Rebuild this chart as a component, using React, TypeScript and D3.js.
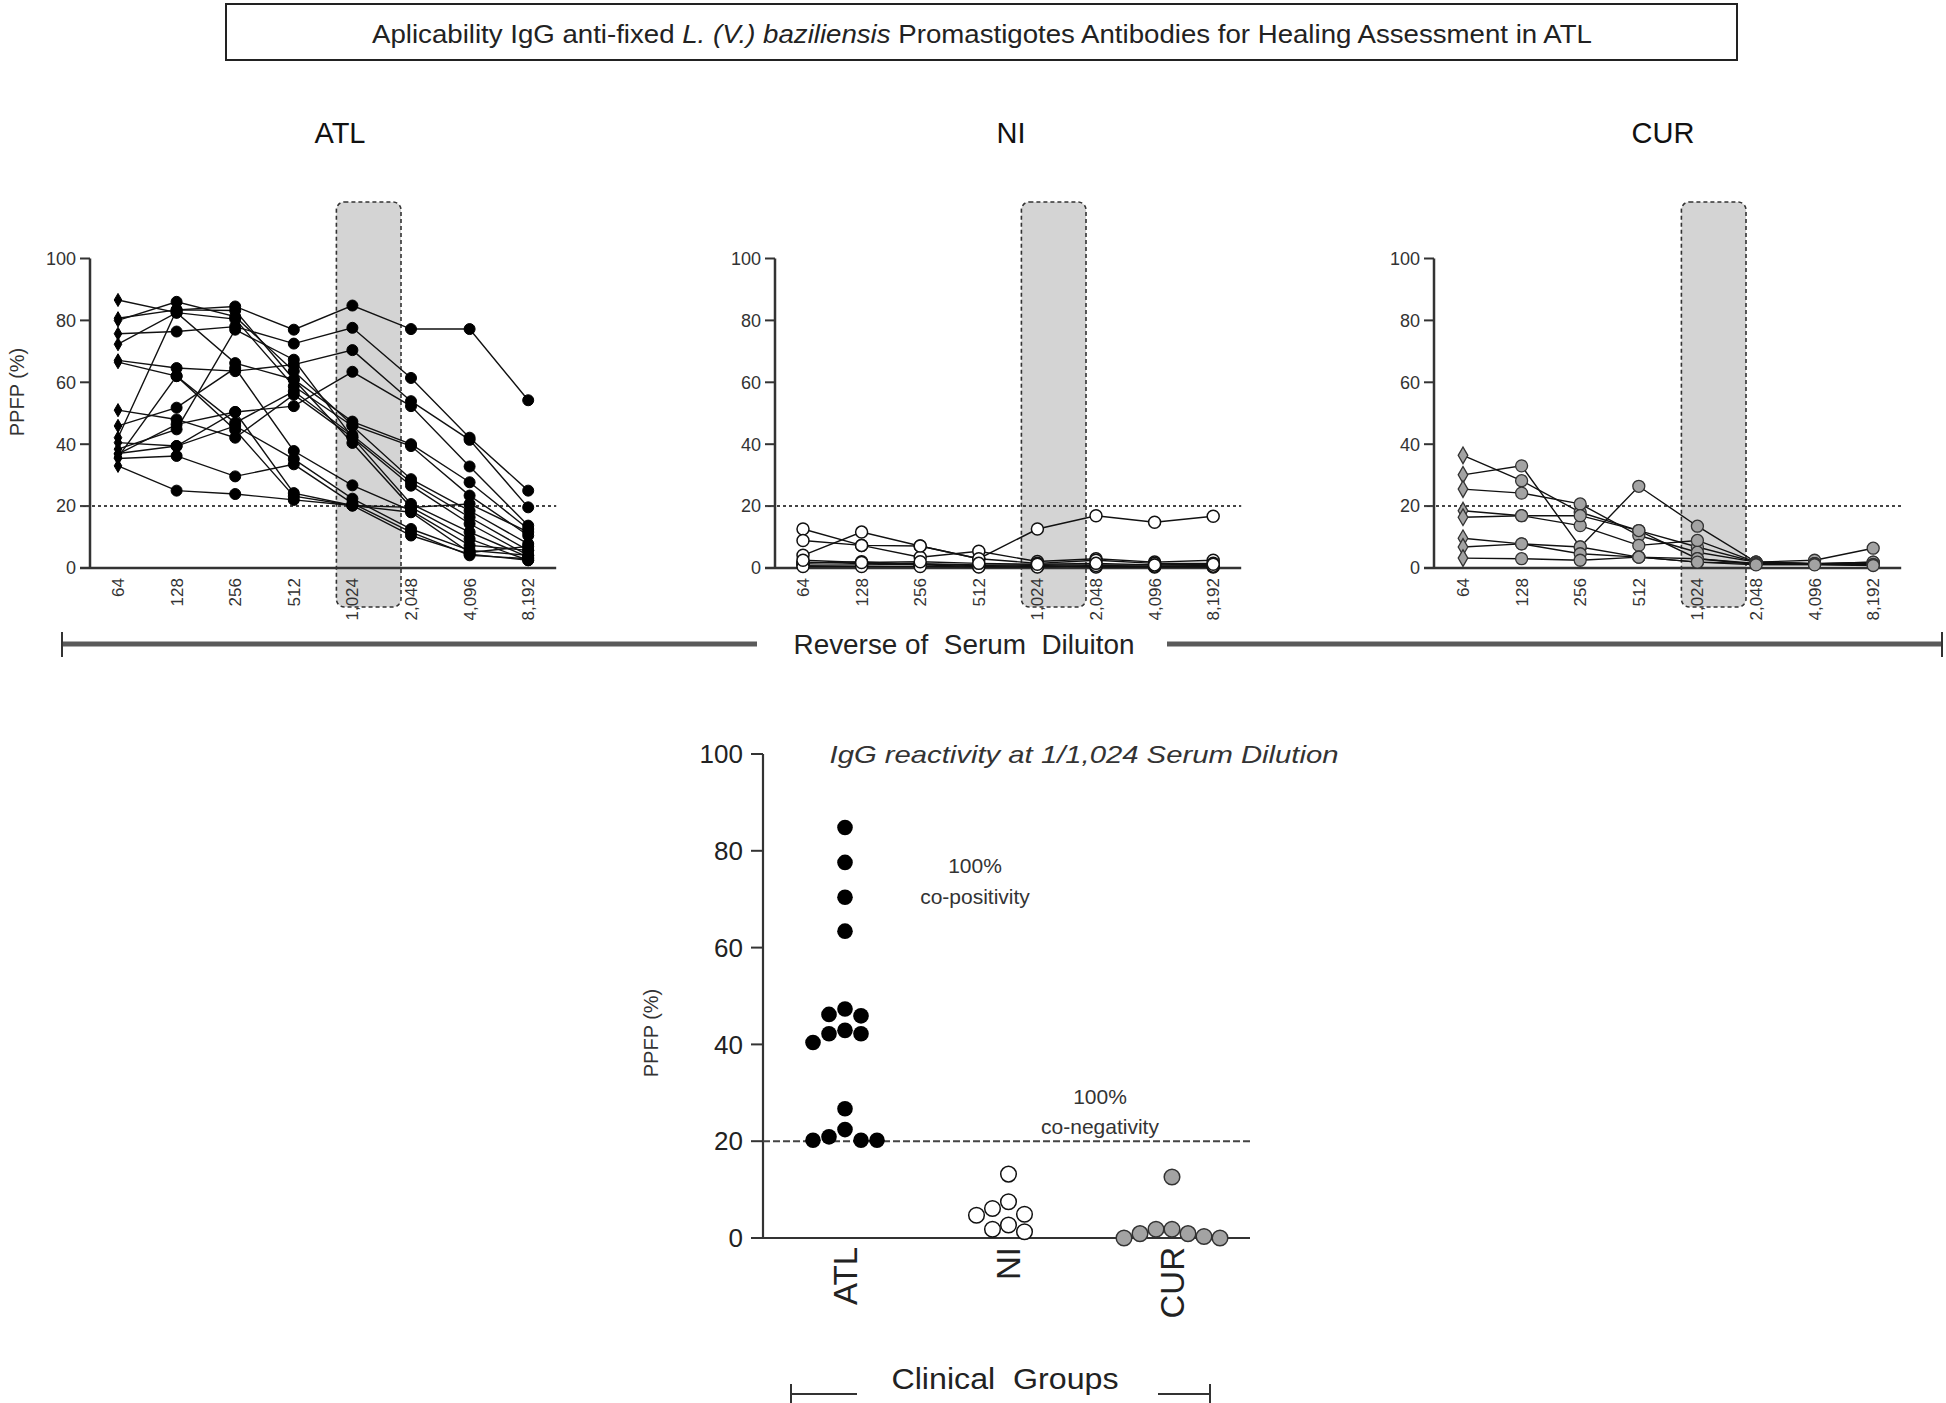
import React from "react";
import * as d3 from "d3";

const dilutions = ["64", "128", "256", "512", "1,024", "2,048", "4,096", "8,192"];
const yTicks = [0, 20, 40, 60, 80, 100];
const cutoff = 20;

// PPFP (%) per patient across serum dilutions (64 ... 8,192)
const atlSeries: number[][] = [
  [80.7, 83.4, 84.5, 77.0, 84.8, 77.2, 77.2, 54.2],
  [75.7, 76.4, 78.0, 72.5, 77.6, 61.4, 42.1, 25.0],
  [67.1, 64.6, 63.6, 65.7, 70.4, 53.9, 41.4, 19.6],
  [36.8, 46.4, 50.4, 52.3, 63.4, 52.3, 32.8, 13.7],
  [86.6, 82.5, 66.2, 60.9, 47.3, 40.0, 27.7, 12.6],
  [80.0, 86.0, 81.2, 63.6, 46.2, 39.4, 23.4, 10.5],
  [72.3, 82.5, 80.4, 58.7, 45.9, 28.7, 18.5, 7.8],
  [66.5, 62.0, 46.9, 57.1, 42.9, 27.7, 16.4, 5.7],
  [51.0, 48.0, 42.1, 56.0, 42.2, 26.6, 14.3, 4.1],
  [38.4, 44.8, 77.0, 67.3, 42.2, 20.7, 11.6, 3.5],
  [42.1, 83.4, 83.2, 60.9, 40.4, 19.6, 9.4, 2.5],
  [45.9, 51.8, 64.6, 37.8, 26.7, 18.5, 7.3, 5.7],
  [40.5, 39.4, 45.9, 35.2, 22.4, 12.6, 5.7, 4.1],
  [35.4, 36.2, 29.6, 33.5, 20.9, 11.6, 4.1, 3.0],
  [33.0, 25.0, 23.9, 22.0, 20.2, 10.5, 4.5, 2.5],
  [37.0, 39.4, 50.4, 24.2, 20.2, 19.6, 20.7, 11.6],
  [35.8, 62.0, 44.6, 23.2, 20.2, 18.0, 5.0, 7.0],
];

const niSeries: number[][] = [
  [4.1, 11.6, 7.1, 3.0, 12.6, 16.9, 14.8, 16.7],
  [12.6, 7.3, 3.5, 5.4, 2.1, 3.0, 1.9, 2.5],
  [8.9, 7.3, 7.1, 3.0, 1.5, 2.5, 1.5, 1.5],
  [1.9, 1.4, 1.4, 1.0, 1.0, 1.0, 1.0, 0.8],
  [0.9, 1.0, 1.2, 0.8, 0.5, 0.5, 0.5, 0.5],
  [1.5, 2.0, 1.0, 0.5, 0.8, 0.3, 0.3, 0.3],
  [0.5, 0.5, 0.5, 0.3, 0.3, 0.8, 0.6, 0.6],
  [2.5, 1.8, 2.0, 1.5, 1.2, 1.5, 1.0, 1.2],
];

const curSeries: number[][] = [
  [36.4, 28.2, 18.0, 12.1, 6.8, 1.9, 1.4, 1.4],
  [30.1, 33.0, 6.8, 26.4, 13.5, 1.9, 2.5, 6.4],
  [25.5, 24.2, 20.7, 10.5, 5.1, 1.9, 1.4, 1.9],
  [18.5, 16.9, 13.7, 7.3, 8.9, 1.9, 1.4, 1.4],
  [16.4, 16.9, 16.9, 12.1, 3.0, 1.5, 1.4, 1.9],
  [9.6, 7.8, 6.8, 3.5, 1.9, 1.5, 1.2, 1.2],
  [6.8, 7.8, 4.6, 3.5, 3.0, 1.2, 1.2, 1.0],
  [3.2, 3.0, 2.5, 3.5, 1.9, 1.0, 1.0, 0.8],
];

// IgG reactivity at 1/1,024
const groups = ["ATL", "NI", "CUR"];
const atlAt1024 = [84.8, 77.6, 70.4, 63.4, 47.3, 46.2, 45.9, 42.9, 42.2, 42.2, 40.4, 26.7, 22.4, 20.9, 20.2, 20.2, 20.2];
const niAt1024 = [13.2, 7.5, 6.1, 4.9, 4.7, 2.7, 1.8, 1.3];
const curAt1024 = [12.6, 1.8, 1.8, 0.9, 0.9, 0.3, 0.0, 0.0];

const FONT = "'Liberation Sans', Arial, Helvetica, sans-serif";
const AXIS = "#333";

type Kind = "atl" | "ni" | "cur";

function markerStyle(kind: Kind) {
  if (kind === "atl") return { fill: "#000", stroke: "#000", strokeWidth: 1, r: 5.5 };
  if (kind === "ni") return { fill: "#fff", stroke: "#111", strokeWidth: 1.5, r: 6 };
  return { fill: "#a3a3a3", stroke: "#333", strokeWidth: 1.3, r: 6 };
}

function TopPanel({ title, titleX, axisX, firstX, series, kind }: { title: string; titleX: number; axisX: number; firstX: number; series: number[][]; kind: Kind }) {
  const y = d3.scaleLinear().domain([0, 100]).range([568, 258.5]);
  const x = d3.scalePoint<string>().domain(dilutions).range([firstX, firstX + 7 * 58.6]);
  const line = d3
    .line<number>()
    .x((_, i) => x(dilutions[i]) as number)
    .y((d) => y(d));
  const lastX = x(dilutions[7]) as number;
  const boxL = (x("1,024") as number) - 16;
  const boxR = (x("2,048") as number) - 10;
  const ms = markerStyle(kind);
  return (
    <g>
      <text x={titleX} y={143} fontSize={29} textAnchor="middle" fontFamily={FONT} fill="#111">
        {title}
      </text>
      <rect x={boxL} y={202} width={boxR - boxL} height={405} rx={8} ry={8} fill="#d4d4d4" stroke="#333" strokeWidth={1.6} strokeDasharray="4 3" />
      <line x1={axisX} x2={axisX} y1={y(100)} y2={y(0)} stroke={AXIS} strokeWidth={2.5} />
      {yTicks.map((t) => (
        <g key={t}>
          <line x1={axisX - 10} x2={axisX} y1={y(t)} y2={y(t)} stroke={AXIS} strokeWidth={2} />
          <text x={axisX - 14} y={y(t)} dy="0.35em" fontSize={18} textAnchor="end" fontFamily={FONT} fill="#333">
            {t}
          </text>
        </g>
      ))}
      <line x1={axisX - 10} x2={lastX + 28} y1={y(0)} y2={y(0)} stroke={AXIS} strokeWidth={2.5} />
      {dilutions.map((d) => (
        <text
          key={d}
          transform={`translate(${x(d)},${y(0) + 10}) rotate(-90)`}
          dy="0.35em"
          fontSize={17}
          textAnchor="end"
          fontFamily={FONT}
          fill="#333"
        >
          {d}
        </text>
      ))}
      <line x1={axisX - 10} x2={lastX + 28} y1={y(cutoff)} y2={y(cutoff)} stroke="#444" strokeWidth={2} strokeDasharray="3 3" />
      {series.map((s, i) => (
        <path key={"l" + i} d={line(s) || ""} fill="none" stroke="#111" strokeWidth={1.4} />
      ))}
      {series.map((s, i) =>
        s.map((v, j) =>
          j === 0 && kind !== "ni" ? (
            <path
              key={`m${i}-${j}`}
              d={d3.symbol(d3.symbolDiamond, kind === "atl" ? 50 : 80)() || ""}
              transform={`translate(${x(dilutions[j])},${y(v)})`}
              fill={ms.fill}
              stroke={ms.stroke}
              strokeWidth={ms.strokeWidth}
            />
          ) : (
            <circle key={`m${i}-${j}`} cx={x(dilutions[j])} cy={y(v)} r={ms.r} fill={ms.fill} stroke={ms.stroke} strokeWidth={ms.strokeWidth} />
          )
        )
      )}
    </g>
  );
}

function swarm(values: number[], y: (v: number) => number, step: number, minDist: number) {
  const order = values.map((_, i) => i).sort((a, b) => values[b] - values[a]);
  const placed: { x: number; y: number }[] = [];
  const out: { dx: number; y: number }[] = new Array(values.length);
  for (const i of order) {
    const py = y(values[i]);
    for (let k = 0; k < 30; k++) {
      const slot = k === 0 ? 0 : k % 2 === 1 ? -Math.ceil(k / 2) : Math.ceil(k / 2);
      const px = slot * step;
      if (placed.every((p) => Math.hypot(p.x - px, p.y - py) >= minDist)) {
        placed.push({ x: px, y: py });
        out[i] = { dx: px, y: py };
        break;
      }
    }
  }
  return out;
}

function BottomPanel() {
  const axisX = 763;
  const y = d3.scaleLinear().domain([0, 100]).range([1238, 754]);
  const x = d3.scalePoint<string>().domain(groups).range([845, 1172]);
  const data: [string, number[], Kind][] = [
    ["ATL", atlAt1024, "atl"],
    ["NI", niAt1024, "ni"],
    ["CUR", curAt1024, "cur"],
  ];
  return (
    <g>
      <line x1={axisX} x2={axisX} y1={y(100)} y2={y(0)} stroke={AXIS} strokeWidth={2.2} />
      {yTicks.map((t) => (
        <g key={t}>
          <line x1={axisX - 12} x2={axisX} y1={y(t)} y2={y(t)} stroke={AXIS} strokeWidth={2} />
          <text x={axisX - 20} y={y(t)} dy="0.35em" fontSize={26} textAnchor="end" fontFamily={FONT} fill="#222">
            {t}
          </text>
        </g>
      ))}
      <line x1={axisX - 12} x2={1250} y1={y(0)} y2={y(0)} stroke={AXIS} strokeWidth={2.2} />
      {groups.map((g) => (
        <text key={g} transform={`translate(${x(g)},${y(0) + 9}) rotate(-90)`} dy="0.36em" fontSize={33} textAnchor="end" fontFamily={FONT} fill="#222">
          {g}
        </text>
      ))}
      <line x1={axisX} x2={1250} y1={y(cutoff)} y2={y(cutoff)} stroke="#444" strokeWidth={2} strokeDasharray="7 3" />
      <text transform={`translate(651,1033) rotate(-90)`} dy="0.35em" fontSize={20} textAnchor="middle" fontFamily={FONT} fill="#333">
        PPFP (%)
      </text>
      <text x={1084} y={763} fontSize={24} fontStyle="italic" textAnchor="middle" fontFamily={FONT} fill="#333" textLength={509} lengthAdjust="spacingAndGlyphs">
        IgG reactivity at 1/1,024 Serum Dilution
      </text>
      <text x={975} y={873} fontSize={21} textAnchor="middle" fontFamily={FONT} fill="#333">100%</text>
      <text x={975} y={904} fontSize={21} textAnchor="middle" fontFamily={FONT} fill="#333">co-positivity</text>
      <text x={1100} y={1104} fontSize={21} textAnchor="middle" fontFamily={FONT} fill="#333">100%</text>
      <text x={1100} y={1134} fontSize={21} textAnchor="middle" fontFamily={FONT} fill="#333">co-negativity</text>
      {data.map(([g, vals, kind]) => {
        const ms = markerStyle(kind);
        const pts = swarm(vals, y, 16, 15.5);
        return pts.map((p, i) => (
          <circle
            key={g + i}
            cx={(x(g) as number) + p.dx}
            cy={p.y}
            r={7.8}
            fill={ms.fill}
            stroke={kind === "atl" ? "none" : ms.stroke}
            strokeWidth={1.5}
          />
        ));
      })}
      <line x1={791} x2={857} y1={1394} y2={1394} stroke="#333" strokeWidth={2} />
      <line x1={791} x2={791} y1={1384} y2={1403} stroke="#333" strokeWidth={2} />
      <line x1={1158} x2={1210} y1={1394} y2={1394} stroke="#333" strokeWidth={2} />
      <line x1={1210} x2={1210} y1={1384} y2={1403} stroke="#333" strokeWidth={2} />
      <text x={1005} y={1389} fontSize={29} textAnchor="middle" fontFamily={FONT} fill="#222" textLength={227} lengthAdjust="spacingAndGlyphs">
        Clinical&#160;&#160;Groups
      </text>
    </g>
  );
}

export default function App() {
  return (
    <svg width={1946} height={1403} style={{ position: "absolute", left: 0, top: 0, background: "#fff" }} xmlns="http://www.w3.org/2000/svg">
      <rect x={0} y={0} width={1946} height={1403} fill="#fff" />
      <rect x={226} y={4} width={1511} height={56} fill="#fff" stroke="#222" strokeWidth={2} />
      <text x={982} y={43} fontSize={26} textAnchor="middle" fontFamily={FONT} fill="#222" textLength={1220} lengthAdjust="spacingAndGlyphs">
        Aplicability IgG anti-fixed <tspan fontStyle="italic">L. (V.) baziliensis</tspan> Promastigotes Antibodies for Healing Assessment in ATL
      </text>

      <text transform="translate(17,392) rotate(-90)" dy="0.35em" fontSize={20} textAnchor="middle" fontFamily={FONT} fill="#333">
        PPFP (%)
      </text>

      <TopPanel title="ATL" titleX={340} axisX={90} firstX={118} series={atlSeries} kind="atl" />
      <TopPanel title="NI" titleX={1011} axisX={775} firstX={803} series={niSeries} kind="ni" />
      <TopPanel title="CUR" titleX={1663} axisX={1434} firstX={1463} series={curSeries} kind="cur" />

      <line x1={62} x2={757} y1={644} y2={644} stroke="#5a5a5a" strokeWidth={5} />
      <line x1={1167} x2={1942} y1={644} y2={644} stroke="#5a5a5a" strokeWidth={5} />
      <line x1={62} x2={62} y1={632} y2={657} stroke="#333" strokeWidth={2} />
      <line x1={1942} x2={1942} y1={632} y2={657} stroke="#333" strokeWidth={2} />
      <text x={964} y={654} fontSize={27} textAnchor="middle" fontFamily={FONT} fill="#222" textLength={341} lengthAdjust="spacingAndGlyphs">
        Reverse&#160;of&#160;&#160;Serum&#160;&#160;Diluiton
      </text>

      <BottomPanel />
    </svg>
  );
}
